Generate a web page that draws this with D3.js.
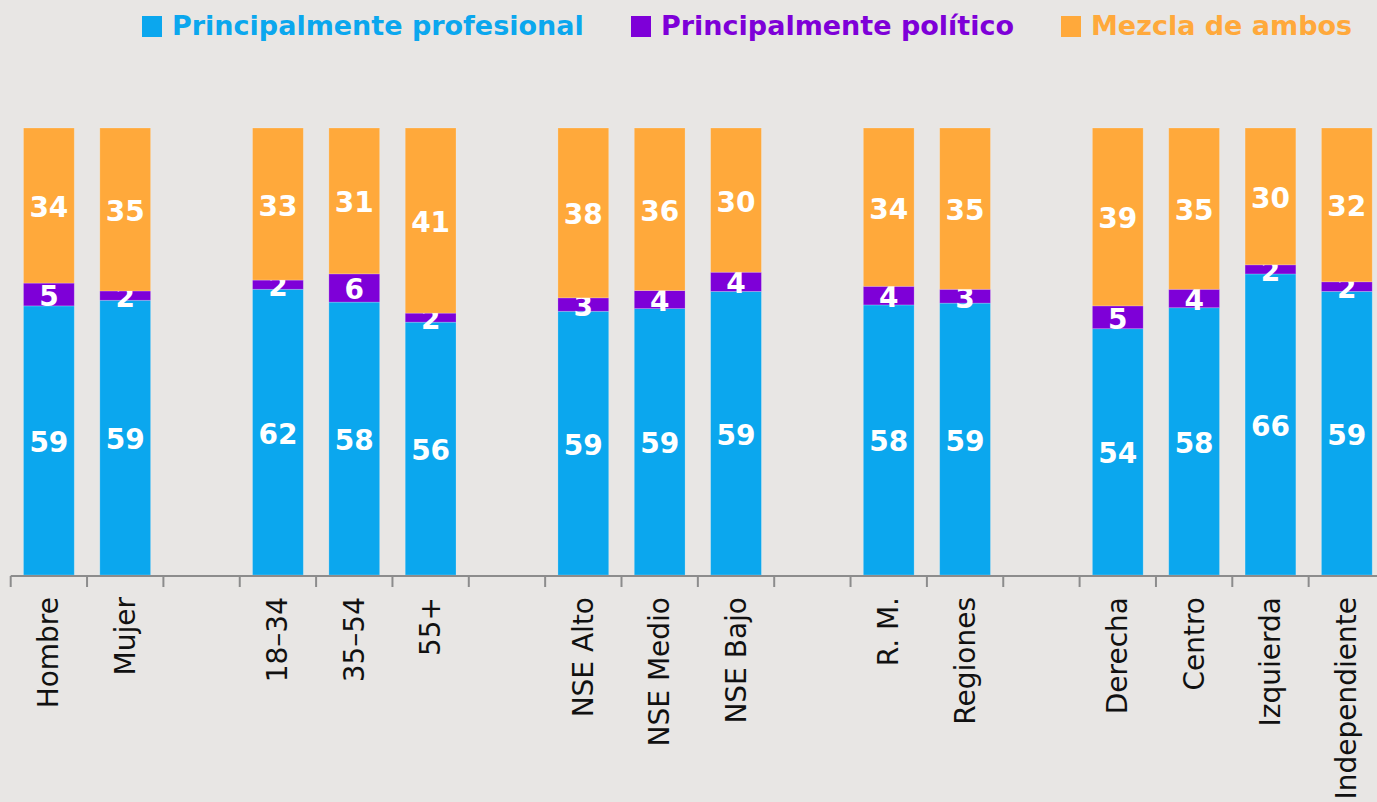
<!DOCTYPE html>
<html>
<head>
<meta charset="utf-8">
<script src="https://cdn.jsdelivr.net/npm/d3@7"></script>
<style>
  body { margin: 0; background: #e8e6e4; }
  svg { display: block; }
</style>
</head>
<body>
<div id="vis"></div>
<script>
const frame_width = 1377;
const frame_height = 802;

// categories, blank slots are the gaps between groups
const categories = ["Hombre", "Mujer", "gap1", "18–34", "35–54", "55+", "gap2",
    "NSE Alto", "NSE Medio", "NSE Bajo", "gap3", "R. M.", "Regiones", "gap4",
    "Derecha", "Centro", "Izquierda", "Independiente"];

const profesional = [59, 59, null, 62, 58, 56, null, 59, 59, 59, null, 58, 59, null, 54, 58, 66, 59];
const politico    = [5, 2, null, 2, 6, 2, null, 3, 4, 4, null, 4, 3, null, 5, 4, 2, 2];
const mezcla      = [34, 35, null, 33, 31, 41, null, 38, 36, 30, null, 34, 35, null, 39, 35, 30, 32];

const series_names = ["Principalmente profesional", "Principalmente político", "Mezcla de ambos"];
const series_color = ["#0ba7ee", "#7e00d8", "#ffa93b"];

const FRAME = d3.select("#vis")
    .append("svg")
        .attr("width", frame_width)
        .attr("height", frame_height);

FRAME.append("rect")
    .attr("width", frame_width)
    .attr("height", frame_height)
    .attr("fill", "#e8e6e4");

const X_SCALE = d3.scaleBand()
    .domain(categories)
    .range([10.7, 1385])
    .paddingInner(0.335)
    .paddingOuter(0.1675);

// bars are normalised to their own total
const Y_SCALE = d3.scaleLinear()
    .domain([0, 1])
    .range([575, 128]);

const rows = categories.map((c, i) => {
    return {cat: c, vals: [profesional[i], politico[i], mezcla[i]]};
}).filter(d => d.vals[0] != null);

rows.forEach(row => {
    const total = d3.sum(row.vals);
    let acc = 0;
    row.vals.forEach((v, j) => {
        const y0 = acc / total;
        acc += v;
        const y1 = acc / total;
        FRAME.append("rect")
            .attr("x", X_SCALE(row.cat))
            .attr("y", Y_SCALE(y1))
            .attr("width", X_SCALE.bandwidth())
            .attr("height", Y_SCALE(y0) - Y_SCALE(y1))
            .attr("fill", series_color[j])
            .attr("stroke", "rgba(255,255,255,0.25)")
            .attr("stroke-width", 0.8);

        FRAME.append("text")
            .attr("x", X_SCALE(row.cat) + X_SCALE.bandwidth() / 2)
            .attr("y", (Y_SCALE(y0) + Y_SCALE(y1)) / 2 + 2)
            .attr("text-anchor", "middle")
            .attr("dominant-baseline", "central")
            .attr("font-family", "DejaVu Sans")
            .attr("font-weight", "bold")
            .attr("font-size", "28px")
            .attr("fill", "#ffffff")
            .text(v);
    });
});

// x axis: baseline + ticks between every slot
const step = X_SCALE.step();
const axis_y = 576;
FRAME.append("line")
    .attr("x1", X_SCALE.range()[0])
    .attr("x2", frame_width)
    .attr("y1", axis_y)
    .attr("y2", axis_y)
    .attr("stroke", "#8c8c8c")
    .attr("stroke-width", 2);

FRAME.selectAll(".tick")
    .data(categories)
    .enter()
    .append("line")
        .attr("class", "tick")
        .attr("x1", d => X_SCALE(d) - step * X_SCALE.paddingInner() / 2)
        .attr("x2", d => X_SCALE(d) - step * X_SCALE.paddingInner() / 2)
        .attr("y1", axis_y)
        .attr("y2", axis_y + 11)
        .attr("stroke", "#8c8c8c")
        .attr("stroke-width", 2);

FRAME.selectAll(".xlabel")
    .data(categories.filter(c => !c.startsWith("gap")))
    .enter()
    .append("text")
        .attr("class", "xlabel")
        .attr("transform", d => "translate(" + (X_SCALE(d) + X_SCALE.bandwidth() / 2) + ",597) rotate(-90)")
        .attr("text-anchor", "end")
        .attr("dominant-baseline", "central")
        .attr("font-family", "DejaVu Sans")
        .attr("font-size", "28px")
        .attr("fill", "#111111")
        .text(d => d);

// legend
const legend_x = [142, 631, 1061];
series_names.forEach((name, i) => {
    FRAME.append("rect")
        .attr("x", legend_x[i])
        .attr("y", 16)
        .attr("width", 20)
        .attr("height", 21)
        .attr("fill", series_color[i]);
    FRAME.append("text")
        .attr("x", legend_x[i] + 30)
        .attr("y", 35)
        .attr("font-family", "DejaVu Sans")
        .attr("font-weight", "bold")
        .attr("font-size", "27px")
        .attr("fill", series_color[i])
        .text(name);
});
</script>
</body>
</html>
